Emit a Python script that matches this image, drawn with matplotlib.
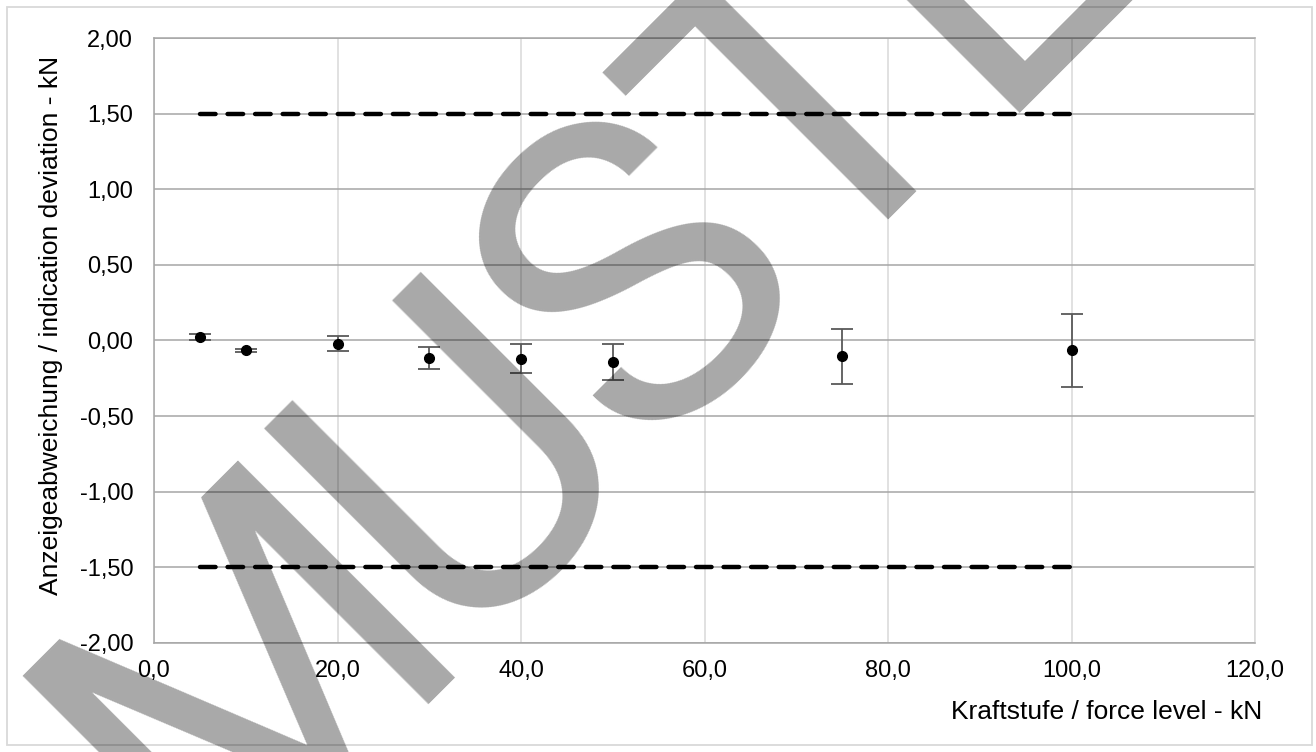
import numpy as np
import matplotlib.pyplot as plt
from matplotlib.patches import Rectangle
from matplotlib.ticker import FuncFormatter, MultipleLocator

plt.rcParams['font.family'] = ['Liberation Sans', 'DejaVu Sans']

# force levels in kN and measured indication deviation with its uncertainty
force = [5, 10, 20, 30, 40, 50, 75, 100]
deviation = [0.02, -0.065, -0.02, -0.115, -0.12, -0.143, -0.105, -0.066]
uncertainty = [0.02, 0.012, 0.048, 0.073, 0.096, 0.12, 0.182, 0.242]

# permissible limits
limit_x = [5, 100]
limit_upper = [1.5, 1.5]
limit_lower = [-1.5, -1.5]

watermark = 'MUSTER'

W, H = 1316, 752


def comma(fmt):
    return FuncFormatter(lambda v, pos: format(v, fmt).replace('.', ','))


def px(x, y):
    # pixel position (from top-left) -> figure fraction
    return x / W, 1 - y / H


def draw_watermark(fig):
    angle = np.radians(45)
    b = np.array([np.cos(angle), -np.sin(angle)])   # along the baseline
    u = np.array([-np.sin(angle), -np.cos(angle)])  # letter "up"
    base = -776 * u
    # letter centres along the baseline, in pixels
    centres = [-299, 3, 256, 496, 738, 990]
    for letter, s in zip(watermark, centres):
        x, y = base + s * b
        fig.text(*px(x, y), letter, fontsize=310, family=['Roboto', 'DejaVu Sans'],
                 rotation=45, rotation_mode='anchor', ha='center', va='baseline',
                 color='black', alpha=0.34, zorder=10)


def main():
    fig = plt.figure(figsize=(W / 100, H / 100), dpi=100)
    ax = fig.add_axes([154 / W, 1 - 643 / H, (1255 - 154) / W, (643 - 38) / H])

    ax.errorbar(force, deviation, yerr=uncertainty, fmt='o', color='black',
                markersize=7, ecolor='#595959', elinewidth=1.3, capsize=8,
                capthick=1.3, zorder=4)
    for y in (limit_upper, limit_lower):
        ax.plot(limit_x, y, color='black', linewidth=3.2, linestyle=(0, (3.5, 2.7)),
                dash_capstyle='round', zorder=3)

    ax.set_xlim(0, 120)
    ax.set_ylim(-2, 2)
    ax.xaxis.set_major_locator(MultipleLocator(20))
    ax.yaxis.set_major_locator(MultipleLocator(0.5))
    ax.xaxis.set_major_formatter(comma('.1f'))
    ax.yaxis.set_major_formatter(comma('.2f'))
    ax.tick_params(length=0, labelsize=17, colors='black')
    ax.tick_params(axis='y', pad=15)
    ax.tick_params(axis='x', pad=12.5)

    ax.grid(axis='y', color='#a6a6a6', linewidth=1.1)
    ax.grid(axis='x', color='#d9d9d9', linewidth=1.1)
    ax.set_axisbelow(True)
    for side in ('left', 'bottom', 'top'):
        ax.spines[side].set_color('#a6a6a6')
        ax.spines[side].set_linewidth(1.1)
    ax.spines['right'].set_color('#d9d9d9')
    ax.spines['right'].set_linewidth(1.1)

    fig.text(*px(1262, 719), 'Kraftstufe / force level - kN', fontsize=19,
             ha='right', va='baseline')
    fig.text(*px(58, 325), 'Anzeigeabweichung / indication deviation - kN',
             fontsize=19, rotation=90, rotation_mode='anchor', ha='center',
             va='baseline')

    fig.patches.append(Rectangle(px(7, 745), (1312 - 7) / W, (745 - 7) / H,
                                 transform=fig.transFigure, fill=False,
                                 edgecolor='#d9d9d9', linewidth=1.3))

    draw_watermark(fig)

    fig.savefig('out.png', dpi=100)


if __name__ == '__main__':
    main()
